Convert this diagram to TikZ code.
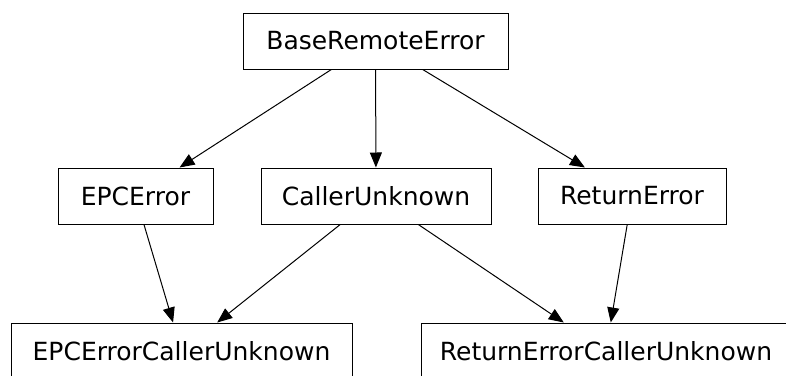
\documentclass[tikz,border=0pt]{standalone}
\usepackage{fontspec}
\setmainfont{DejaVu Sans}
\usetikzlibrary{arrows.meta}
\begin{document}
\begin{tikzpicture}[x=1pt,y=-1pt,
  cls/.style={draw=black, line width=1pt, rectangle, minimum height=56pt, inner sep=0pt, font=\fontsize{25}{29}\selectfont},
  edge/.style={draw=black, line width=1pt, -{Triangle[length=15pt,width=12pt]}}]
\useasboundingbox (0,0) rectangle (786,375);
\begin{scope}
\clip (0,0) rectangle (786,375);
\node[cls, minimum width=265pt] (base) at (375.5,41) {BaseRemoteError};
\node[cls, minimum width=155pt] (epc) at (135.5,196) {EPCError};
\node[cls, minimum width=230pt] (cu) at (376,196) {CallerUnknown};
\node[cls, minimum width=188pt] (re) at (632,196) {ReturnError};
\node[cls, minimum width=341pt] (ecu) at (181.5,351) {EPCErrorCallerUnknown};
\node[cls, minimum width=370pt] (recu) at (606,351) {ReturnErrorCallerUnknown};
\draw[edge] (base) -- (epc);
\draw[edge] (base) -- (cu);
\draw[edge] (base) -- (re);
\draw[edge] (epc) -- (ecu);
\draw[edge] (cu) -- (ecu);
\draw[edge] (cu) -- (recu);
\draw[edge] (re) -- (recu);
\end{scope}
\end{tikzpicture}
\end{document}
